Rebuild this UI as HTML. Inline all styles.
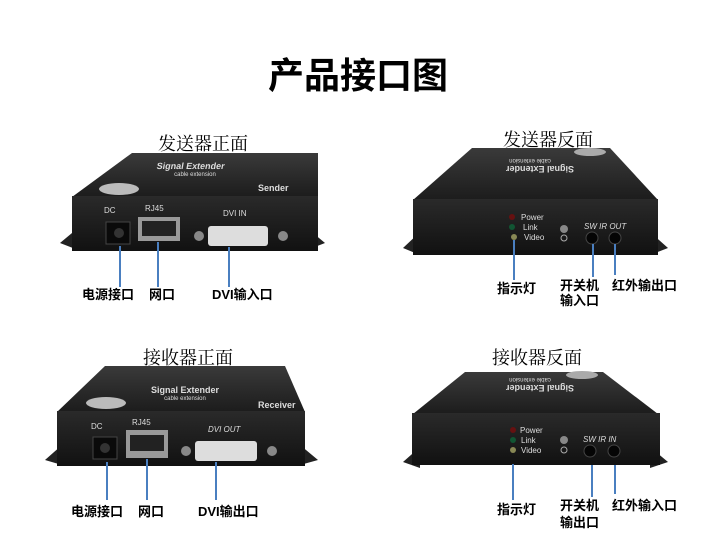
<!DOCTYPE html>
<html><head><meta charset="utf-8"><style>
html,body{margin:0;padding:0;background:#fff;}
svg{display:block;}
.t{font-family:"Liberation Serif","Noto Serif CJK SC",serif;fill:#000;}
.l{font-family:"Liberation Sans","Noto Sans CJK SC",sans-serif;font-weight:bold;fill:#000;font-size:13px;}
.w{font-family:"Liberation Sans",sans-serif;fill:#ddd;}
</style></head><body>
<svg width="716" height="538" viewBox="0 0 716 538" xmlns="http://www.w3.org/2000/svg">
<defs>
<linearGradient id="tg" x1="0" y1="0" x2="0" y2="1"><stop offset="0" stop-color="#3a3a3a"/><stop offset="1" stop-color="#1c1c1c"/></linearGradient>
<linearGradient id="fg" x1="0" y1="0" x2="0" y2="1"><stop offset="0" stop-color="#2a2a2a"/><stop offset="1" stop-color="#111"/></linearGradient>
</defs>
<text x="358" y="88" text-anchor="middle" font-size="36" font-weight="bold" font-family="'Liberation Sans','Noto Sans CJK SC',sans-serif">产品接口图</text>

<!-- Titles -->
<text class="t" x="203" y="150" text-anchor="middle" font-size="18">发送器正面</text>
<text class="t" x="548" y="146" text-anchor="middle" font-size="18">发送器反面</text>
<text class="t" x="188" y="364" text-anchor="middle" font-size="18">接收器正面</text>
<text class="t" x="537" y="364" text-anchor="middle" font-size="18">接收器反面</text>

<!-- Top-left device -->
<polygon points="60,243 78,228 78,250" fill="#222"/>
<polygon points="325,243 307,228 307,250" fill="#222"/>
<polygon points="132,153 318,153 318,197 72,197" fill="url(#tg)"/>
<rect x="72" y="196" width="246" height="55" fill="url(#fg)"/>
<text class="w" x="190" y="169" text-anchor="middle" font-size="9" font-weight="bold" transform="skewX(-10) translate(30,0)">Signal Extender</text>
<text class="w" x="195" y="176" text-anchor="middle" font-size="6">cable extension</text>
<text class="w" x="258" y="191" font-size="9" font-weight="bold">Sender</text>
<ellipse cx="119" cy="189" rx="20" ry="6" fill="#bbb"/>
<text class="w" x="104" y="213" font-size="8">DC</text>
<rect x="106" y="222" width="24" height="22" fill="#0a0a0a" stroke="#444"/>
<circle cx="119" cy="233" r="5" fill="#333"/>
<text class="w" x="145" y="211" font-size="8">RJ45</text>
<rect x="138" y="217" width="42" height="24" fill="#999"/>
<rect x="142" y="221" width="34" height="15" fill="#222"/>
<text class="w" x="223" y="216" font-size="8">DVI IN</text>
<rect x="208" y="226" width="60" height="20" fill="#ddd" rx="3"/>
<circle cx="199" cy="236" r="5" fill="#888"/><circle cx="283" cy="236" r="5" fill="#888"/>
<g stroke="#4a7fc0" stroke-width="2"><line x1="120" y1="246" x2="120" y2="287"/><line x1="158" y1="242" x2="158" y2="287"/><line x1="229" y1="247" x2="229" y2="287"/></g>
<text class="l" x="82" y="299">电源接口</text>
<text class="l" x="149" y="299">网口</text>
<text class="l" x="212" y="299">DVI输入口</text>

<!-- Top-right device -->
<polygon points="403,248 420,232 420,255" fill="#222"/>
<polygon points="668,248 650,232 650,255" fill="#222"/>
<polygon points="472,148 610,148 658,200 413,200" fill="url(#tg)"/>
<rect x="413" y="199" width="245" height="56" fill="url(#fg)"/>
<text class="w" x="540" y="172" text-anchor="middle" font-size="9" font-weight="bold" transform="rotate(180 540 169)">Signal Extender</text>
<text class="w" x="530" y="163" text-anchor="middle" font-size="6" transform="rotate(180 530 161)">cable extension</text>
<ellipse cx="590" cy="152" rx="16" ry="4" fill="#aaa"/>
<circle cx="512" cy="217" r="3" fill="#611"/><circle cx="512" cy="227" r="3" fill="#153"/><circle cx="514" cy="237" r="3" fill="#885"/>
<text class="w" x="521" y="220" font-size="8">Power</text>
<text class="w" x="523" y="230" font-size="8">Link</text>
<text class="w" x="524" y="240" font-size="8">Video</text>
<circle cx="564" cy="229" r="4" fill="#888"/><circle cx="564" cy="238" r="3" fill="none" stroke="#aaa"/>
<text class="w" x="584" y="229" font-size="8" font-style="italic">SW  IR OUT</text>
<circle cx="592" cy="238" r="6" fill="#050505" stroke="#444"/><circle cx="615" cy="238" r="6" fill="#050505" stroke="#444"/>
<g stroke="#4a7fc0" stroke-width="2"><line x1="514" y1="240" x2="514" y2="280"/><line x1="593" y1="244" x2="593" y2="277"/><line x1="615" y1="244" x2="615" y2="275"/></g>
<text class="l" x="497" y="293">指示灯</text>
<text class="l" x="560" y="290">开关机</text>
<text class="l" x="560" y="305">输入口</text>
<text class="l" x="612" y="290">红外输出口</text>

<!-- Bottom-left device -->
<polygon points="45,460 62,445 62,465" fill="#222"/>
<polygon points="318,460 300,445 300,465" fill="#222"/>
<polygon points="105,366 285,366 305,412 57,412" fill="url(#tg)"/>
<rect x="57" y="411" width="248" height="55" fill="url(#fg)"/>
<text class="w" x="185" y="393" text-anchor="middle" font-size="9" font-weight="bold">Signal Extender</text>
<text class="w" x="185" y="400" text-anchor="middle" font-size="6">cable extension</text>
<text class="w" x="258" y="408" font-size="9" font-weight="bold">Receiver</text>
<ellipse cx="106" cy="403" rx="20" ry="6" fill="#bbb"/>
<text class="w" x="91" y="429" font-size="8">DC</text>
<rect x="93" y="437" width="24" height="22" fill="#0a0a0a" stroke="#444"/>
<circle cx="105" cy="448" r="5" fill="#333"/>
<text class="w" x="132" y="425" font-size="8">RJ45</text>
<rect x="126" y="430" width="42" height="28" fill="#999"/>
<rect x="130" y="435" width="34" height="16" fill="#222"/>
<text class="w" x="208" y="432" font-size="8" font-style="italic">DVI OUT</text>
<rect x="195" y="441" width="62" height="20" fill="#ddd" rx="3"/>
<circle cx="186" cy="451" r="5" fill="#888"/><circle cx="272" cy="451" r="5" fill="#888"/>
<g stroke="#4a7fc0" stroke-width="2"><line x1="107" y1="462" x2="107" y2="500"/><line x1="147" y1="459" x2="147" y2="500"/><line x1="216" y1="462" x2="216" y2="500"/></g>
<text class="l" x="71" y="516">电源接口</text>
<text class="l" x="138" y="516">网口</text>
<text class="l" x="198" y="516">DVI输出口</text>

<!-- Bottom-right device -->
<polygon points="403,462 420,447 420,468" fill="#222"/>
<polygon points="668,462 650,447 650,468" fill="#222"/>
<polygon points="465,372 603,372 658,414 413,414" fill="url(#tg)"/>
<rect x="412" y="413" width="248" height="52" fill="url(#fg)"/>
<text class="w" x="540" y="391" text-anchor="middle" font-size="9" font-weight="bold" transform="rotate(180 540 388)">Signal Extender</text>
<text class="w" x="530" y="382" text-anchor="middle" font-size="6" transform="rotate(180 530 380)">cable extension</text>
<ellipse cx="582" cy="375" rx="16" ry="4" fill="#aaa"/>
<circle cx="513" cy="430" r="3" fill="#611"/><circle cx="513" cy="440" r="3" fill="#153"/><circle cx="513" cy="450" r="3" fill="#885"/>
<text class="w" x="520" y="433" font-size="8">Power</text>
<text class="w" x="521" y="443" font-size="8">Link</text>
<text class="w" x="521" y="453" font-size="8">Video</text>
<circle cx="564" cy="440" r="4" fill="#888"/><circle cx="564" cy="450" r="3" fill="none" stroke="#aaa"/>
<text class="w" x="583" y="442" font-size="8" font-style="italic">SW   IR IN</text>
<circle cx="590" cy="451" r="6" fill="#050505" stroke="#444"/><circle cx="614" cy="451" r="6" fill="#050505" stroke="#444"/>
<g stroke="#4a7fc0" stroke-width="2"><line x1="513" y1="464" x2="513" y2="500"/><line x1="592" y1="465" x2="592" y2="497"/><line x1="615" y1="465" x2="615" y2="494"/></g>
<text class="l" x="497" y="514">指示灯</text>
<text class="l" x="560" y="510">开关机</text>
<text class="l" x="560" y="527">输出口</text>
<text class="l" x="612" y="510">红外输入口</text>
</svg>
</body></html>
